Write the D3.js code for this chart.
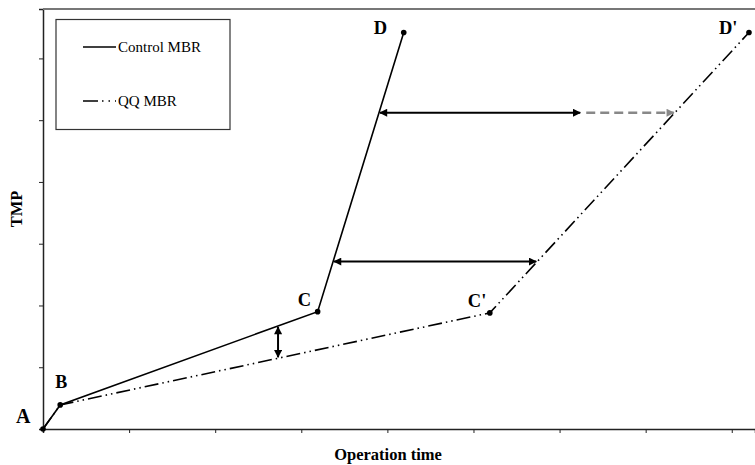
<!DOCTYPE html>
<html><head><meta charset="utf-8">
<script src="https://cdn.jsdelivr.net/npm/d3@7"></script>
<style>body{margin:0;background:#fff}svg{display:block}text{font-family:"Liberation Serif","Times New Roman",serif}</style>
</head><body><svg id="c" width="755" height="465"></svg>
<script>
// Data
const controlX = [0, 0.2, 3.19, 4.19];
const controlY = [0, 0.39, 1.9, 6.42];
const qqX = [0, 0.2, 5.19, 8.2];
const qqY = [0, 0.39, 1.88, 6.42];
const controlLabels = ["A", "B", "C", "D"];
const qqLabels = ["", "", "C'", "D'"];
const xTicks = [0, 1, 2, 3, 4, 5, 6, 7, 8];
const yTicks = [1, 2, 3, 4, 5, 6];
const vArrowX = [2.73];          // vertical arrow between lines
const hArrowY = [2.71, 5.12];    // horizontal arrows between lines
const hArrowSplitX = [null, 6.24]; // where black part ends (rest dashed gray)
const seriesNames = ["Control MBR", "QQ MBR"];

const svg = d3.select("#c");
const x = d3.scaleLinear().domain([0, 8.27]).range([43, 755]);
const y = d3.scaleLinear().domain([0, 6.8]).range([429, 9]);

const defs = svg.append("defs");
function marker(id, color, orient) {
  defs.append("marker").attr("id", id).attr("viewBox", "0 0 10 10")
    .attr("refX", 9).attr("refY", 5).attr("markerWidth", 10).attr("markerHeight", 8)
    .attr("markerUnits", "userSpaceOnUse").attr("orient", orient)
    .append("path").attr("d", "M0,0 L10,5 L0,10 Z").attr("fill", color);
}
marker("ab", "#000", "auto-start-reverse");
marker("ag", "#888", "auto");

// Axes
svg.append("g").attr("transform", "translate(0,429)")
  .call(d3.axisBottom(x).tickValues(xTicks).tickSize(4).tickFormat(""))
  .call(g => { g.select(".domain").attr("stroke", "#222").attr("stroke-width", 1.5); g.selectAll(".tick line").attr("stroke", "#222"); });
svg.append("g").attr("transform", "translate(43,0)")
  .call(d3.axisLeft(y).tickValues(yTicks).tickSize(4).tickFormat(""))
  .call(g => { g.select(".domain").attr("stroke", "#222").attr("stroke-width", 1.5); g.selectAll(".tick line").attr("stroke", "#222"); });
// top border
svg.append("line").attr("x1", 43).attr("x2", 755).attr("y1", y(6.8)).attr("y2", y(6.8))
  .attr("stroke", "#777").attr("stroke-width", 2);

// Axis titles
svg.append("text").attr("x", 388).attr("y", 460).attr("text-anchor", "middle")
  .attr("font-size", 16.5).attr("font-weight", "bold").text("Operation time");
svg.append("text").attr("transform", "translate(22,209) rotate(-90)").attr("text-anchor", "middle")
  .attr("font-size", 16.5).attr("font-weight", "bold").text("TMP");

const qqDash = "14,4,1.5,4,1.5,4";
const line = d3.line().x(d => x(d[0])).y(d => y(d[1]));
const ctrl = controlX.map((v, i) => [v, controlY[i]]);
const qq = qqX.map((v, i) => [v, qqY[i]]);

svg.append("path").attr("d", line(qq)).attr("fill", "none").attr("stroke", "#000")
  .attr("stroke-width", 1.6).attr("stroke-dasharray", qqDash);
svg.append("path").attr("d", line(ctrl)).attr("fill", "none").attr("stroke", "#000").attr("stroke-width", 1.6);

svg.selectAll("circle.c").data(ctrl).enter().append("circle")
  .attr("cx", d => x(d[0])).attr("cy", d => y(d[1])).attr("r", 2.8).attr("fill", "#000");
svg.selectAll("circle.q").data(qq.slice(2)).enter().append("circle")
  .attr("cx", d => x(d[0])).attr("cy", d => y(d[1])).attr("r", 2.8).attr("fill", "#000");

// interpolation helpers
function yAt(xs, ys, xv) {
  for (let i = 0; i < xs.length - 1; i++) if (xv >= xs[i] && xv <= xs[i + 1])
    return ys[i] + (ys[i + 1] - ys[i]) * (xv - xs[i]) / (xs[i + 1] - xs[i]);
}
function xAt(xs, ys, yv) {
  for (let i = 0; i < ys.length - 1; i++) if (yv >= ys[i] && yv <= ys[i + 1])
    return xs[i] + (xs[i + 1] - xs[i]) * (yv - ys[i]) / (ys[i + 1] - ys[i]);
}

// Vertical arrow
vArrowX.forEach(xv => {
  svg.append("line").attr("x1", x(xv)).attr("x2", x(xv))
    .attr("y1", y(yAt(controlX, controlY, xv)) + 1).attr("y2", y(yAt(qqX, qqY, xv)) - 1)
    .attr("stroke", "#000").attr("stroke-width", 2)
    .attr("marker-start", "url(#ab)").attr("marker-end", "url(#ab)");
});
// Horizontal arrows
hArrowY.forEach((yv, i) => {
  const x1 = x(xAt(controlX, controlY, yv)) + 1;
  const x2 = x(xAt(qqX, qqY, yv)) - 1;
  const split = hArrowSplitX[i];
  if (split === null) {
    svg.append("line").attr("x1", x1).attr("x2", x2).attr("y1", y(yv)).attr("y2", y(yv))
      .attr("stroke", "#000").attr("stroke-width", 2)
      .attr("marker-start", "url(#ab)").attr("marker-end", "url(#ab)");
  } else {
    svg.append("line").attr("x1", x(split) + 6).attr("x2", x2).attr("y1", y(yv)).attr("y2", y(yv))
      .attr("stroke", "#888").attr("stroke-width", 2.5).attr("stroke-dasharray", "9,5")
      .attr("marker-end", "url(#ag)");
    svg.append("line").attr("x1", x1).attr("x2", x(split)).attr("y1", y(yv)).attr("y2", y(yv))
      .attr("stroke", "#000").attr("stroke-width", 2)
      .attr("marker-start", "url(#ab)").attr("marker-end", "url(#ab)");
  }
});

// Point labels
const labelOff = { "A": [-27, -6, 20], "B": [-5, -17, 18], "C": [-20, -6, 18.5], "D": [-30, 2, 18.5], "C'": [-22, -6, 18.5], "D'": [-30, 2, 18.5] };
function addLabel(lbl, p) {
  if (!lbl) return;
  const o = labelOff[lbl];
  svg.append("text").attr("x", x(p[0]) + o[0]).attr("y", y(p[1]) + o[1]).attr("text-anchor", "start")
    .attr("font-size", o[2]).attr("font-weight", "bold").text(lbl);
}
controlLabels.forEach((l, i) => addLabel(l, ctrl[i]));
qqLabels.forEach((l, i) => addLabel(l, qq[i]));

// Legend
const lg = svg.append("g");
lg.append("rect").attr("x", 56).attr("y", 19.5).attr("width", 174).attr("height", 110)
  .attr("fill", "#fff").attr("stroke", "#333").attr("stroke-width", 1.2);
const legY = [47, 101];
const legDash = [null, "15,4,1.5,5,1.5,5"];
seriesNames.forEach((n, i) => {
  lg.append("line").attr("x1", 83).attr("x2", 116).attr("y1", legY[i]).attr("y2", legY[i])
    .attr("stroke", "#000").attr("stroke-width", 1.6).attr("stroke-dasharray", legDash[i]);
  lg.append("text").attr("x", 118).attr("y", legY[i] + 5).attr("font-size", 15).text(n);
});
</script></body></html>
